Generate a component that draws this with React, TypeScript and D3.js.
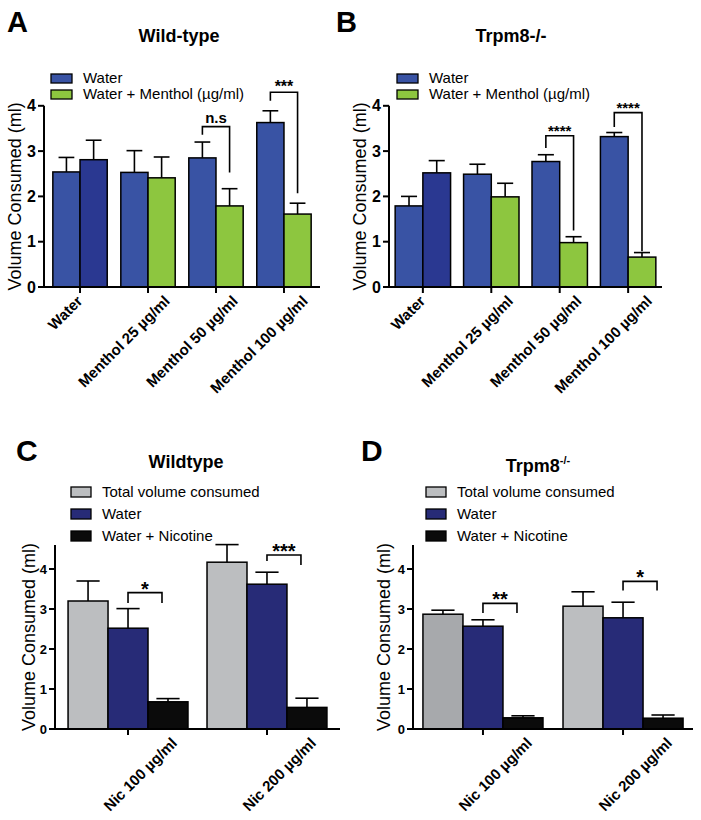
import React from "react";
import * as d3 from "d3";

// ---------- DATA ----------
const mentholCategories = ["Water", "Menthol 25 µg/ml", "Menthol 50 µg/ml", "Menthol 100 µg/ml"];
const mentholSeries = ["Water", "Water + Menthol (µg/ml)"];

const wtWaterMean = [2.54, 2.53, 2.85, 3.63];
const wtWaterSem = [0.32, 0.48, 0.35, 0.26];
const wtMentholMean = [2.81, 2.41, 1.79, 1.61];
const wtMentholSem = [0.43, 0.46, 0.38, 0.24];

const koWaterMean = [1.79, 2.49, 2.77, 3.32];
const koWaterSem = [0.21, 0.22, 0.15, 0.09];
const koMentholMean = [2.52, 1.99, 0.98, 0.66];
const koMentholSem = [0.27, 0.3, 0.13, 0.1];

const nicCategories = ["Nic 100 µg/ml", "Nic 200 µg/ml"];
const nicSeries = ["Total volume consumed", "Water", "Water + Nicotine"];

const wtTotalMean = [3.2, 4.17];
const wtTotalSem = [0.5, 0.44];
const wtNicWaterMean = [2.52, 3.62];
const wtNicWaterSem = [0.49, 0.3];
const wtNicMean = [0.68, 0.54];
const wtNicSem = [0.08, 0.23];

const koTotalMean = [2.87, 3.07];
const koTotalSem = [0.1, 0.36];
const koNicWaterMean = [2.57, 2.78];
const koNicWaterSem = [0.16, 0.39];
const koNicMean = [0.28, 0.27];
const koNicSem = [0.05, 0.08];

const mentholTicks = [0, 1, 2, 3, 4];
const nicTicks = [0, 1, 2, 3, 4];

// significance: category index, bracket top, left leg bottom, right leg bottom, label
const wtMentholSig = [
  { cat: 2, top: 3.54, lb: 3.36, rb: 2.53, label: "n.s" },
  { cat: 3, top: 4.3, lb: 4.11, rb: 2.07, label: "***" },
];
const koMentholSig = [
  { cat: 2, top: 3.34, lb: 3.07, rb: 1.25, label: "****" },
  { cat: 3, top: 3.85, lb: 3.53, rb: 0.79, label: "****" },
];
const wtNicSig = [
  { cat: 0, top: 3.41, lb: 3.15, rb: 3.15, label: "*" },
  { cat: 1, top: 4.35, lb: 4.2, rb: 4.1, label: "***" },
];
const koNicSig = [
  { cat: 0, top: 3.14, lb: 2.9, rb: 2.9, label: "**" },
  { cat: 1, top: 3.69, lb: 3.46, rb: 3.46, label: "*" },
];

// ---------- STYLE ----------
const FONT = "'Liberation Sans', Arial, Helvetica, sans-serif";
const BLUE = "#3953A4";
const NAVY_W = "#2A3891";
const GREEN = "#8DC63F";
const GREY = "#BCBEC0";
const GREY_D = "#A7A9AC";
const NAVY = "#272B77";
const BLACK = "#0B0B0B";

let ctx: CanvasRenderingContext2D | null = null;
function textLen(s: string, font: string) {
  if (!ctx) ctx = document.createElement("canvas").getContext("2d");
  if (!ctx) return s.length * 7;
  ctx.font = font;
  return ctx.measureText(s).width;
}

type Sig = { cat: number; top: number; lb: number; rb: number; label: string };

interface Cfg {
  letter: string;
  letterX: number;
  letterY: number;
  letterSize: number;
  title: string;
  titleSup?: string;
  titleX: number;
  titleY: number;
  categories: string[];
  series: string[];
  means: number[][];
  sems: number[][];
  color: (s: number, c: number) => string;
  legendColors: string[];
  xRange: [number, number];
  padIn: number;
  padOut: number;
  y0: number;
  yMax: number;
  pxPerUnit: number;
  ticks: number[];
  tickFont: number;
  ylabelX: number;
  legendX: number;
  legendY: number;
  legendGap: number;
  legendFont: number;
  swW: number;
  swH: number;
  sigs: Sig[];
  sigFont: number;
  sigDy: number;
  sigRightShift: number;
  sigLeftSeries: number;
  sigRightSeries: number;
  labelFont: number;
  labelA: number;
  labelB: number;
}

function Panel({ c }: { c: Cfg }) {
  const y = d3
    .scaleLinear()
    .domain([0, c.yMax])
    .range([c.y0, c.y0 - c.yMax * c.pxPerUnit]);
  const x = d3
    .scaleBand<string>()
    .domain(c.categories)
    .range(c.xRange)
    .paddingInner(c.padIn)
    .paddingOuter(c.padOut);
  const xs = d3
    .scaleBand<string>()
    .domain(c.series)
    .range([0, x.bandwidth()]);
  const bw = xs.bandwidth();
  const axX = c.xRange[0];
  const yTop = y(c.yMax);
  const labFont = `bold ${c.labelFont}px ${FONT}`;

  return (
    <g fontFamily={FONT}>
      <text x={c.letterX} y={c.letterY} fontSize={c.letterSize} fontWeight="bold">
        {c.letter}
      </text>
      <text x={c.titleX} y={c.titleY} fontSize={18} fontWeight="bold" textAnchor="middle">
        {c.title}
        {c.titleSup ? (
          <tspan fontSize={11} dy={-8}>
            {c.titleSup}
          </tspan>
        ) : null}
      </text>

      {/* legend */}
      {c.series.map((s, i) => (
        <g key={s}>
          <rect
            x={c.legendX}
            y={c.legendY + i * c.legendGap - c.swH}
            width={c.swW}
            height={c.swH}
            fill={c.legendColors[i]}
            stroke="#000"
            strokeWidth={1.3}
          />
          <text
            x={c.legendX + c.swW + 11}
            y={c.legendY + i * c.legendGap}
            fontSize={c.legendFont}
          >
            {s}
          </text>
        </g>
      ))}

      {/* bars */}
      {c.categories.map((cat, ci) =>
        c.series.map((s, si) => {
          const v = c.means[si][ci];
          const e = c.sems[si][ci];
          const bx = (x(cat) as number) + (xs(s) as number);
          const cx = bx + bw / 2;
          return (
            <g key={cat + s}>
              <line x1={cx} x2={cx} y1={y(v)} y2={y(v + e)} stroke="#000" strokeWidth={1.6} />
              <line
                x1={cx - bw * 0.29}
                x2={cx + bw * 0.29}
                y1={y(v + e)}
                y2={y(v + e)}
                stroke="#000"
                strokeWidth={1.6}
              />
              <rect
                x={bx}
                y={y(v)}
                width={bw}
                height={c.y0 - y(v)}
                fill={c.color(si, ci)}
                stroke="#000"
                strokeWidth={1.5}
              />
            </g>
          );
        })
      )}

      {/* axes */}
      <line x1={axX} x2={axX} y1={yTop} y2={c.y0} stroke="#000" strokeWidth={2} />
      <line x1={axX} x2={c.xRange[1]} y1={c.y0} y2={c.y0} stroke="#000" strokeWidth={2} />
      {c.ticks.map((t) => (
        <g key={t}>
          <line x1={axX - 6} x2={axX} y1={y(t)} y2={y(t)} stroke="#000" strokeWidth={2} />
          <text
            x={axX - 8}
            y={y(t)}
            dy="0.35em"
            fontSize={c.tickFont}
            fontWeight="bold"
            textAnchor="end"
          >
            {t}
          </text>
        </g>
      ))}
      {c.categories.map((cat) => {
        const tx = (x(cat) as number) + x.bandwidth() / 2;
        const L = textLen(cat, labFont);
        const ex = tx + c.labelA * L + c.labelB;
        const ey = c.y0 + 15;
        return (
          <g key={cat}>
            <line x1={tx} x2={tx} y1={c.y0} y2={c.y0 + 6} stroke="#000" strokeWidth={2} />
            <text
              x={ex}
              y={ey}
              fontSize={c.labelFont}
              fontWeight="bold"
              textAnchor="end"
              transform={`rotate(-45 ${ex} ${ey})`}
            >
              {cat}
            </text>
          </g>
        );
      })}
      <text
        x={c.ylabelX}
        y={(c.y0 + yTop) / 2}
        fontSize={18}
        textAnchor="middle"
        transform={`rotate(-90 ${c.ylabelX} ${(c.y0 + yTop) / 2})`}
      >
        Volume Consumed (ml)
      </text>

      {/* significance */}
      {c.sigs.map((sg) => {
        const cat = c.categories[sg.cat];
        const lx = (x(cat) as number) + (xs(c.series[c.sigLeftSeries]) as number) + bw / 2;
        const rx =
          (x(cat) as number) + (xs(c.series[c.sigRightSeries]) as number) + bw / 2 - c.sigRightShift;
        const ty = y(sg.top);
        const isText = sg.label === "n.s";
        return (
          <g key={sg.cat}>
            <path
              d={`M${lx},${y(sg.lb)}V${ty}H${rx}V${y(sg.rb)}`}
              fill="none"
              stroke="#000"
              strokeWidth={1.6}
            />
            <text
              x={(lx + rx) / 2}
              y={isText ? ty - 4 : ty + c.sigDy}
              fontSize={isText ? 15 : c.sigFont}
              fontWeight="bold"
              textAnchor="middle"
            >
              {sg.label}
            </text>
          </g>
        );
      })}
    </g>
  );
}

const baseMenthol = {
  categories: mentholCategories,
  series: mentholSeries,
  legendColors: [BLUE, GREEN],
  color: (s: number, c: number) => (s === 0 ? BLUE : c === 0 ? NAVY_W : GREEN),
  padIn: 0.2,
  y0: 287,
  yMax: 4,
  pxPerUnit: 45.3,
  ticks: mentholTicks,
  tickFont: 16,
  legendGap: 16,
  legendFont: 15,
  swW: 21,
  swH: 9,
  sigFont: 16,
  sigDy: 0,
  sigRightShift: 0,
  sigLeftSeries: 0,
  sigRightSeries: 1,
  labelFont: 15,
  labelA: 0.24,
  labelB: -6.5,
  letterSize: 29,
};

const cfgA: Cfg = {
  ...baseMenthol,
  letter: "A",
  letterX: 7,
  letterY: 32,
  title: "Wild-type",
  titleX: 179,
  titleY: 42,
  means: [wtWaterMean, wtMentholMean],
  sems: [wtWaterSem, wtMentholSem],
  xRange: [44, 320],
  padOut: 0.13,
  ylabelX: 21,
  legendX: 51,
  legendY: 83,
  sigs: wtMentholSig,
};

const cfgB: Cfg = {
  ...baseMenthol,
  letter: "B",
  letterX: 336,
  letterY: 32,
  title: "Trpm8-/-",
  titleX: 511,
  titleY: 42,
  means: [koWaterMean, koMentholMean],
  sems: [koWaterSem, koMentholSem],
  xRange: [389, 662],
  padIn: 0.19,
  padOut: 0.09,
  ylabelX: 366,
  legendX: 397,
  legendY: 83,
  sigs: koMentholSig,
  sigFont: 15,
};

const baseNic = {
  categories: nicCategories,
  series: nicSeries,
  y0: 729,
  yMax: 4.6,
  pxPerUnit: 40,
  ticks: nicTicks,
  tickFont: 13,
  legendY: 497,
  legendGap: 22,
  legendFont: 15,
  swW: 20,
  swH: 10,
  sigFont: 20,
  sigDy: 3,
  sigRightShift: 6,
  sigLeftSeries: 1,
  sigRightSeries: 2,
  labelFont: 15,
  labelA: 0.52,
  labelB: 0,
  letterSize: 30,
  titleY: 468,
};

const cfgC: Cfg = {
  ...baseNic,
  letter: "C",
  letterX: 16,
  letterY: 461,
  title: "Wildtype",
  titleX: 186,
  means: [wtTotalMean, wtNicWaterMean, wtNicMean],
  sems: [wtTotalSem, wtNicWaterSem, wtNicSem],
  legendColors: [GREY, NAVY, BLACK],
  color: (s: number) => [GREY, NAVY, BLACK][s],
  xRange: [55, 340],
  padIn: 0.137,
  padOut: 0.094,
  ylabelX: 35,
  legendX: 71,
  sigs: wtNicSig,
};

const cfgD: Cfg = {
  ...baseNic,
  letter: "D",
  letterX: 361,
  letterY: 461,
  title: "Trpm8",
  titleSup: "-/-",
  titleX: 538,
  titleY: 472,
  means: [koTotalMean, koNicWaterMean, koNicMean],
  sems: [koTotalSem, koNicWaterSem, koNicSem],
  legendColors: [GREY, NAVY, BLACK],
  color: (s: number, c: number) => (s === 0 ? (c === 0 ? GREY_D : GREY) : [GREY, NAVY, BLACK][s]),
  xRange: [413, 693],
  padIn: 0.143,
  padOut: 0.071,
  ylabelX: 390,
  legendX: 426,
  sigs: koNicSig,
};

export default function App() {
  return (
    <svg
      width={701}
      height={820}
      style={{ position: "absolute", left: 0, top: 0, background: "#fff" }}
    >
      <rect width={701} height={820} fill="#fff" />
      <Panel c={cfgA} />
      <Panel c={cfgB} />
      <Panel c={cfgC} />
      <Panel c={cfgD} />
    </svg>
  );
}
